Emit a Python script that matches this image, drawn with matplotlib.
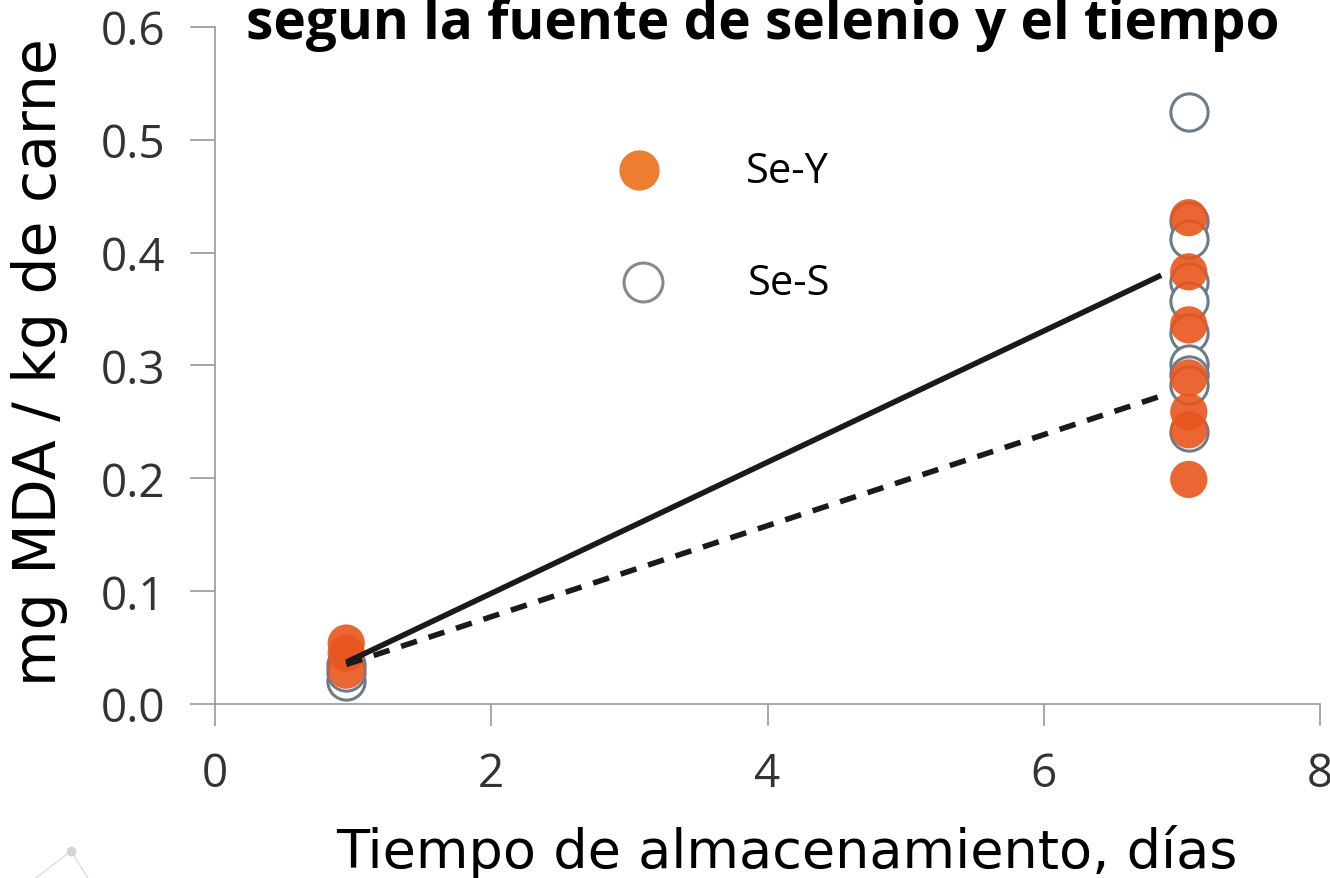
import matplotlib
matplotlib.use("Agg")
import matplotlib.pyplot as plt
from matplotlib.lines import Line2D

# Storage time (days) and MDA values per selenium source
day_first = 0.95
day_last = 7.05
sey_day1 = [0.054, 0.045, 0.030]
sey_day7 = [0.431, 0.383, 0.336, 0.289, 0.259, 0.243, 0.199]
ses_day1 = [0.020, 0.035, 0.028]
ses_day7 = [0.525, 0.428, 0.412, 0.374, 0.357, 0.329, 0.301, 0.292, 0.283, 0.241]

# Fitted trend lines (start day, end day, start value, end value)
fit_days = [0.95, 6.85]
fit_solid = [0.037, 0.380]
fit_dashed = [0.035, 0.273]

title = "segun la fuente de selenio y el tiempo"
xlabel = "Tiempo de almacenamiento, días"
ylabel = "mg MDA / kg de carne"
xticks = [0, 2, 4, 6, 8]
yticks = [0.0, 0.1, 0.2, 0.3, 0.4, 0.5, 0.6]
legend_labels = ["Se-Y", "Se-S"]

orange = "#E8561E"
legend_orange = "#ED7D31"
gray_edge = "#6E7C8A"
tick_col = "#333333"
axis_col = "#a0a0a0"

W, H = 1330, 879
fig = plt.figure(figsize=(W / 100, H / 100), dpi=100)
ax = fig.add_axes([215 / W, 1 - 705 / H, 1105 / W, 677 / H])

ms = 720
ax.scatter([day_first] * len(ses_day1), ses_day1, s=ms, facecolor="white",
           edgecolor=gray_edge, linewidth=2.2, zorder=2)
ax.scatter([day_last] * len(ses_day7), ses_day7, s=ms, facecolor="white",
           edgecolor=gray_edge, linewidth=2.2, zorder=2)
ax.scatter([day_first] * len(sey_day1), sey_day1, s=ms, facecolor=orange,
           edgecolor="none", alpha=0.9, zorder=3)
ax.scatter([day_last] * len(sey_day7), sey_day7, s=ms, facecolor=orange,
           edgecolor="none", alpha=0.9, zorder=3)

ax.plot(fit_days, fit_solid, color="#1a1a1a", lw=4, zorder=4,
        solid_capstyle="butt")
ax.plot(fit_days, fit_dashed, color="#1a1a1a", lw=4, ls=(0, (3, 2.2)), zorder=4)

ax.set_xlim(0, 8)
ax.set_ylim(0, 0.6)
ax.set_xticks(xticks)
ax.set_xticklabels([str(t) for t in xticks])
ax.set_yticks(yticks)
ax.set_yticklabels([f"{t:.1f}" for t in yticks])
for lab in ax.get_xticklabels() + ax.get_yticklabels():
    lab.set_family("Open Sans")
ax.tick_params(axis="both", labelsize=33, colors=tick_col, width=1.3,
               color=axis_col)
ax.tick_params(axis="x", length=16, pad=18)
ax.tick_params(axis="y", length=18, pad=18)
for side in ("top", "right"):
    ax.spines[side].set_visible(False)
for side in ("left", "bottom"):
    ax.spines[side].set_color(axis_col)
    ax.spines[side].set_linewidth(1.3)
ax.patch.set_alpha(0)

fig.text(787 / W, 1 - 852 / H, xlabel, ha="center", va="center", fontsize=39,
         color="black", family="DejaVu Sans")
fig.text(40 / W, 1 - 362 / H, ylabel, ha="center", va="center", rotation=90,
         fontsize=42, color="black", family="DejaVu Sans")
fig.text(763 / W, 1 - 39 / H, title, ha="center", va="baseline", fontsize=39.5,
         fontweight="bold", color="black", family="Open Sans")

# Legend drawn as markers plus labels
fig.add_artist(Line2D([639 / W], [1 - 171 / H], marker="o", ms=29,
                      mfc=legend_orange, mec="none", ls="none"))
fig.add_artist(Line2D([643 / W], [1 - 283 / H], marker="o", ms=28,
                      mfc="white", mec="#888888", mew=2.2, ls="none"))
fig.text(746 / W, 1 - 172 / H, legend_labels[0], fontsize=30, va="center",
         family="Open Sans")
fig.text(748 / W, 1 - 284 / H, legend_labels[1], fontsize=30, va="center",
         family="Open Sans")

# Small decorative node in the lower-left corner
fig.add_artist(Line2D([36 / W, 71 / W, 88 / W],
                      [0, 1 - 852 / H, 0], color="#dddddd", lw=1))
fig.add_artist(Line2D([71 / W], [1 - 852 / H], marker="o", ms=7,
                      mfc="#d4d4d4", mec="none", ls="none"))

fig.savefig("out.png", dpi=100)
